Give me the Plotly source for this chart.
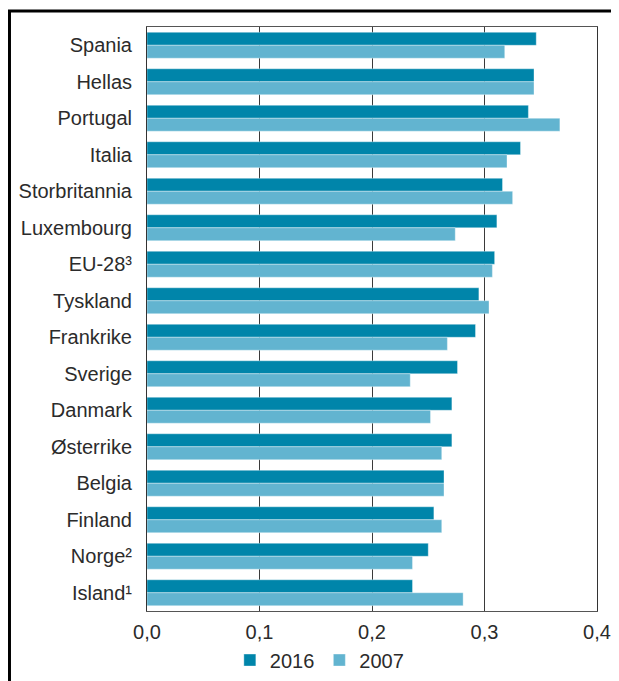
import plotly.graph_objects as go

countries = ["Spania", "Hellas", "Portugal", "Italia", "Storbritannia", "Luxembourg",
             "EU-28³", "Tyskland", "Frankrike", "Sverige", "Danmark", "Østerrike",
             "Belgia", "Finland", "Norge²", "Island¹"]
gini_2016 = [0.346, 0.344, 0.339, 0.332, 0.316, 0.311, 0.309, 0.295, 0.292, 0.276,
             0.271, 0.271, 0.264, 0.255, 0.250, 0.236]
gini_2007 = [0.318, 0.344, 0.367, 0.320, 0.325, 0.274, 0.307, 0.304, 0.267, 0.234,
             0.252, 0.262, 0.264, 0.262, 0.236, 0.281]
x_ticks = [0.0, 0.1, 0.2, 0.3, 0.4]
x_tick_labels = ["0,0", "0,1", "0,2", "0,3", "0,4"]

fig = go.Figure()

fig.add_trace(go.Bar(
    y=countries, x=gini_2016, orientation="h", name="2016",
    marker=dict(color="#0085aa", line=dict(color="rgba(255,255,255,0.6)", width=0.6)),
))
fig.add_trace(go.Bar(
    y=countries, x=gini_2007, orientation="h", name="2007",
    marker=dict(color="#62b4d0", line=dict(color="rgba(255,255,255,0.6)", width=0.6)),
))

# outer frame (only top and left edges fall inside the picture)
fig.add_shape(type="rect", xref="paper", yref="paper",
              x0=-0.3056, x1=1.1, y0=-0.2, y1=1.0274,
              line=dict(color="black", width=3), layer="above")

# page has an 8px body margin, so the figure is 8px smaller than the window
fig.update_layout(
    width=611, height=673,
    margin=dict(l=139, r=22, t=19, b=70, autoexpand=False),
    paper_bgcolor="white", plot_bgcolor="white",
    barmode="group", bargap=0.29, bargroupgap=0,
    font=dict(family="Liberation Sans, Arial, sans-serif", size=20, color="#2b2b2b"),
    showlegend=True,
    legend=dict(orientation="h", x=0.383, xanchor="center", y=-0.084, yanchor="middle",
                font=dict(size=20), itemwidth=30, traceorder="normal",
                tracegroupgap=0, borderwidth=0, bgcolor="rgba(0,0,0,0)"),
    xaxis=dict(range=[0, 0.4], tickvals=x_ticks, ticktext=x_tick_labels,
               showgrid=True, gridcolor="#3a3a3a", gridwidth=1,
               showline=True, linecolor="#555", linewidth=1, mirror=True,
               zeroline=False, ticks="", ticklen=0, ticklabelstandoff=3),
    yaxis=dict(autorange="reversed", showgrid=False, showline=True,
               linecolor="#333", linewidth=1, mirror=True, ticks="",
               ticklabelstandoff=10),
)

fig.write_html("out.html")
